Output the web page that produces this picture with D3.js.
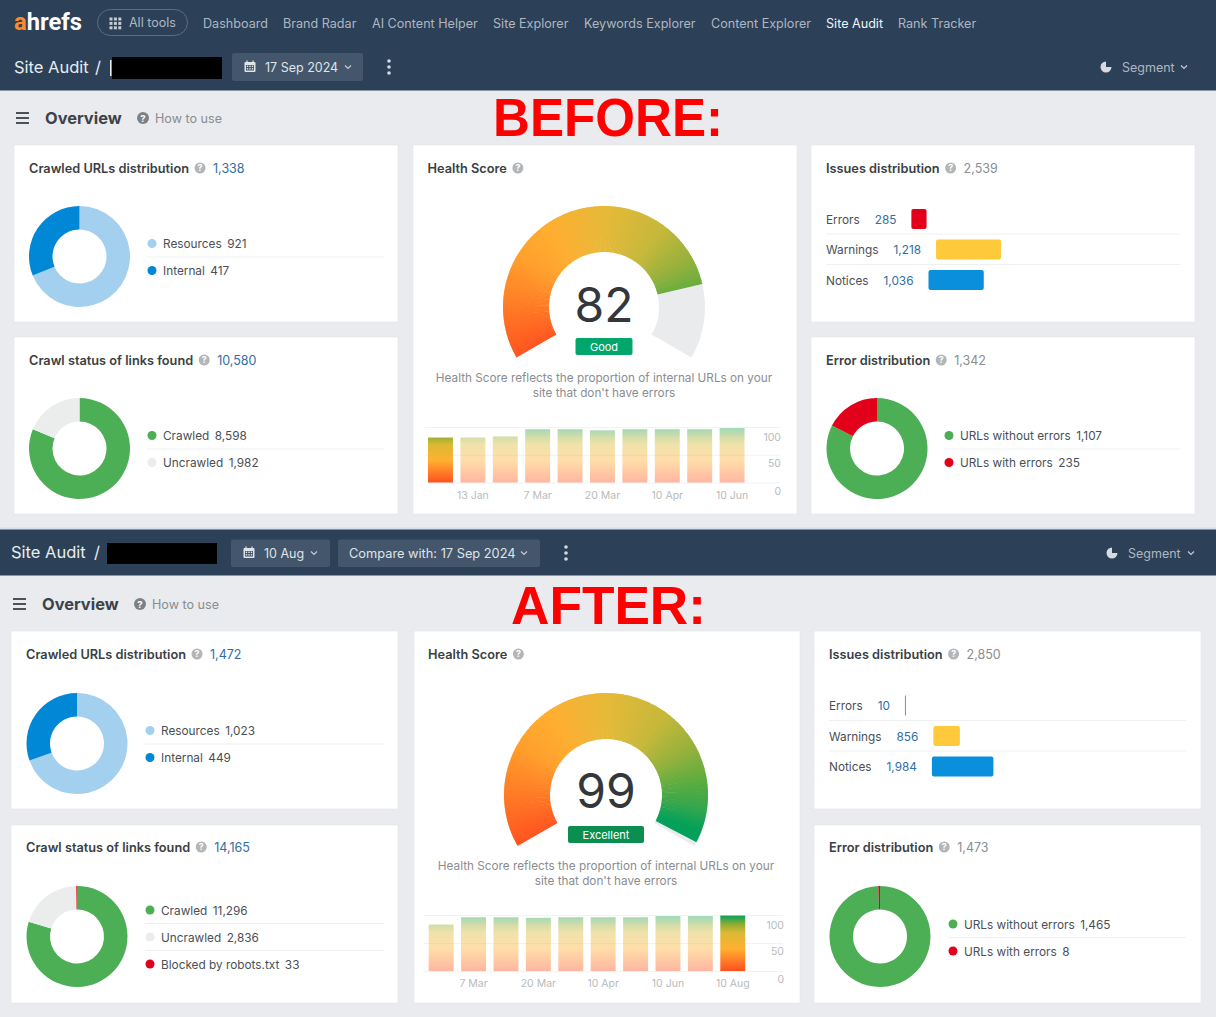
<!DOCTYPE html>
<html>
<head>
<meta charset="utf-8">
<script src="https://cdn.jsdelivr.net/npm/d3@7"></script>
<style>
  html, body { margin: 0; padding: 0; background: #e9ebee; }
  svg { display: block; font-family: Inter, "Noto Sans", sans-serif; }
</style>
</head>
<body>
<svg id="chart" width="1216" height="1017"></svg>
<script>
// values
const navItems = ["Dashboard", "Brand Radar", "AI Content Helper", "Site Explorer", "Keywords Explorer", "Content Explorer", "Site Audit", "Rank Tracker"];
const navX = [203, 283, 372, 493, 584, 711, 826, 898];

const crawledBeforeLabels = ["Resources", "Internal"];
const crawledBeforeValues = [921, 417];
const crawledAfterLabels = ["Resources", "Internal"];
const crawledAfterValues = [1023, 449];

const statusBeforeLabels = ["Crawled", "Uncrawled"];
const statusBeforeValues = [8598, 1982];
const statusAfterLabels = ["Crawled", "Uncrawled", "Blocked by robots.txt"];
const statusAfterValues = [11296, 2836, 33];

const errorBeforeLabels = ["URLs without errors", "URLs with errors"];
const errorBeforeValues = [1107, 235];
const errorAfterLabels = ["URLs without errors", "URLs with errors"];
const errorAfterValues = [1465, 8];

const issueLabels = ["Errors", "Warnings", "Notices"];
const issuesBefore = [285, 1218, 1036];
const issuesAfter = [10, 856, 1984];

const healthBefore = 82;
const healthAfter = 99;
const historyBefore = [81, 81, 83, 96, 96, 94, 96, 96, 96, 98];
const historyAfter = [83, 96, 96, 95, 96, 96, 96, 98, 98, 99];
const historyBeforeTicks = ["", "13 Jan", "", "7 Mar", "", "20 Mar", "", "10 Apr", "", "10 Jun"];
const historyAfterTicks = ["", "7 Mar", "", "20 Mar", "", "10 Apr", "", "10 Jun", "", "10 Aug"];
const historyYTicks = [0, 50, 100];

const gaugeStops = [0, 12, 25, 35, 50, 65, 75, 83, 90, 96, 100];
const gaugeColors = ["#ff5520", "#ff7a25", "#ffa02c", "#ffae30", "#e6b939", "#c6b83a", "#98b13c", "#60ad3f", "#38a74d", "#04a059", "#00a05a"];

const lightBlue = "#a3d0ee", blue = "#0088d6", green = "#4cae55", pale = "#ebeded", red = "#e2001a";
const fmt = d3.format(",");

const svg = d3.select("#chart");
const defs = svg.append("defs");

function label(parent, x, y, str, size, color, weight) {
  return parent.append("text").attr("x", x).attr("y", y).text(str)
    .attr("font-size", size).attr("fill", color).attr("font-weight", weight || 400);
}

function helpIcon(parent, x, y, r, color) {
  parent.append("circle").attr("cx", x).attr("cy", y).attr("r", r).attr("fill", color);
  label(parent, x, y + r * 0.6, "?", r * 1.6, "#fff", 700).attr("text-anchor", "middle");
}

function chevron(parent, x, y) {
  parent.append("path").attr("d", `M${x - 3},${y - 1.5}L${x},${y + 1.5}L${x + 3},${y - 1.5}`)
    .attr("fill", "none").attr("stroke", "#c4ccd4").attr("stroke-width", 1.2);
}

function kebab(parent, x, y) {
  [-6, 0, 6].forEach(d => parent.append("circle").attr("cx", x).attr("cy", y + d).attr("r", 1.8).attr("fill", "#d5dbe1"));
}

function calendar(parent, x, y) {
  parent.append("rect").attr("x", x - 5.5).attr("y", y - 5).attr("width", 11).attr("height", 10).attr("rx", 1)
    .attr("fill", "#dfe4e9");
  parent.append("rect").attr("x", x - 4).attr("y", y - 2).attr("width", 8).attr("height", 5.5).attr("fill", "#43566b");
  [-2.5, 0, 2.5].forEach(dx => [-0.7, 1.8].forEach(dy => {
    parent.append("rect").attr("x", x + dx - 0.7).attr("y", y + dy - 0.7).attr("width", 1.4).attr("height", 1.4).attr("fill", "#dfe4e9");
  }));
  [-3, 3].forEach(dx => parent.append("rect").attr("x", x + dx - 0.6).attr("y", y - 6.5).attr("width", 1.2).attr("height", 2.5).attr("fill", "#dfe4e9"));
}

function segmentLink(parent, iconX, textX, chevX, y) {
  const pie = d3.arc().innerRadius(0).outerRadius(5.5);
  parent.append("path").attr("transform", `translate(${iconX},${y})`)
    .attr("d", pie({ startAngle: Math.PI / 2, endAngle: Math.PI * 2 })).attr("fill", "#d5dbe1");
  label(parent, textX, y + 4.5, "Segment", 12.5, "#aeb7c1");
  chevron(parent, chevX, y);
}

function hamburger(parent, x, y) {
  [-5, 0, 5].forEach(d => parent.append("rect").attr("x", x).attr("y", y + d - 0.9).attr("width", 13).attr("height", 1.8).attr("fill", "#3d4248"));
}

function overviewRow(parent, x, y) {
  hamburger(parent, x, y);
  label(parent, x + 29, y + 6, "Overview", 16.4, "#3d4248", 700);
  helpIcon(parent, x + 127, y, 6, "#7d8185");
  label(parent, x + 139, y + 4.5, "How to use", 12.6, "#8a8d91");
}

function card(x0, y0, x1, y1) {
  svg.append("rect").attr("x", x0).attr("y", y0).attr("width", x1 - x0).attr("height", y1 - y0)
    .attr("fill", "#fff").attr("stroke", "#e3e5e8").attr("stroke-width", 0.6);
}

// title, help icon and total are laid out one after the other
function cardHeader(x, y, title, total, totalColor) {
  const t = label(svg, x, y + 4.5, title, 12.75, "#3a3f45", 600);
  const w = t.node().getComputedTextLength();
  helpIcon(svg, x + w + 11, y, 5.5, "#b3b6b9");
  if (total !== null) label(svg, x + w + 24, y + 4.5, fmt(total), 12.5, totalColor);
}

function donut(cx, cy, values, colors) {
  const pie = d3.pie().sort(null).value(d => d);
  const arc = d3.arc().innerRadius(27).outerRadius(50.5);
  svg.append("g").attr("transform", `translate(${cx},${cy})`)
    .selectAll("path").data(pie(values)).join("path")
    .attr("d", arc).attr("fill", (d, i) => colors[i]);
}

function legend(x, x1, y, labels, values, colors) {
  labels.forEach((name, i) => {
    const cy = y + i * 27;
    svg.append("circle").attr("cx", x + 5).attr("cy", cy).attr("r", 4.5).attr("fill", colors[i]);
    const t = label(svg, x + 16, cy + 4.5, name, 11.8, "#4a4f55");
    t.append("tspan").attr("dx", 5.5).text(fmt(values[i]));
    if (i < labels.length - 1) {
      svg.append("line").attr("x1", x).attr("x2", x1).attr("y1", cy + 13.5).attr("y2", cy + 13.5)
        .attr("stroke", "#eff0f1");
    }
  });
}

function issueBars(x, x1, y, values, maxWidth, colors) {
  const w = d3.scaleLinear().domain([0, d3.max(values)]).range([0, maxWidth]);
  issueLabels.forEach((name, i) => {
    const cy = y + i * 30.5;
    const a = label(svg, x, cy + 4.5, name, 11.8, "#4a4f55");
    const ax = x + a.node().getComputedTextLength() + 15;
    const b = label(svg, ax, cy + 4.5, fmt(values[i]), 11.8, "#2f6ea8");
    const bx = ax + b.node().getComputedTextLength() + 15;
    svg.append("rect").attr("x", bx).attr("y", cy - 10).attr("width", Math.max(1, w(values[i]))).attr("height", 20)
      .attr("rx", values[i] < 50 ? 0 : 2).attr("fill", colors[i]);
    if (i < 2) {
      svg.append("line").attr("x1", x).attr("x2", x1).attr("y1", cy + 15).attr("y2", cy + 15).attr("stroke", "#eff0f1");
    }
  });
}

function gauge(cx, cy, rOuter, rInner, score, scoreY, badge, badgeWidth, badgeColor) {
  const g = svg.append("g").attr("transform", `translate(${cx},${cy})`);
  const angle = d3.scaleLinear().domain([0, 100]).range([-2 * Math.PI / 3, 2 * Math.PI / 3]);
  const arc = d3.arc().innerRadius(rInner).outerRadius(rOuter);
  const color = d3.scaleLinear().domain(gaugeStops).range(gaugeColors);
  if (score < 100) {
    g.append("path").attr("d", arc({ startAngle: angle(score), endAngle: angle(100) })).attr("fill", "#e9ebed");
  }
  // conic gradient, built from thin slices
  d3.range(0, score, 0.5).forEach(s => {
    g.append("path")
      .attr("d", arc({ startAngle: angle(s), endAngle: angle(Math.min(score, s + 0.7)) }))
      .attr("fill", color(s));
  });
  label(g, 0, scoreY, String(score), 48, "#33373c").attr("text-anchor", "middle");
  g.append("rect").attr("x", -badgeWidth / 2).attr("y", 31).attr("width", badgeWidth).attr("height", 17).attr("rx", 2).attr("fill", badgeColor);
  label(g, 0, 44, badge, 11, "#fff").attr("text-anchor", "middle");
  label(g, 0, 75, "Health Score reflects the proportion of internal URLs on your", 11.75, "#8a8d91").attr("text-anchor", "middle");
  label(g, 0, 90, "site that don't have errors", 11.75, "#8a8d91").attr("text-anchor", "middle");
}

function history(id, x0, y0, y100, gridX0, gridX1, values, ticks) {
  const x = d3.scaleBand().domain(d3.range(values.length))
    .range([x0, x0 + 32.4 * (values.length - 0.23)]).paddingInner(0.23).paddingOuter(0);
  const y = d3.scaleLinear().domain([0, 100]).range([y0, y100]);

  const grad = defs.append("linearGradient").attr("id", id).attr("gradientUnits", "userSpaceOnUse")
    .attr("x1", 0).attr("x2", 0).attr("y1", y(0)).attr("y2", y(100));
  [[0, "#ff5020"], [40, "#ffb030"], [68, "#dcb935"], [82, "#98ae30"], [100, "#00a15a"]].forEach(s => {
    grad.append("stop").attr("offset", s[0] + "%").attr("stop-color", s[1]);
  });

  const axisY = svg.append("g").attr("transform", `translate(${gridX1},0)`)
    .call(d3.axisRight(y).tickValues(historyYTicks).tickSize(gridX0 - gridX1).tickPadding(0));
  axisY.select(".domain").remove();
  axisY.selectAll("line").attr("stroke", "#f1f2f3");
  axisY.selectAll("text").attr("x", 1).attr("dy", d => d === 100 ? 13 : 11.5).attr("text-anchor", "end")
    .attr("font-size", 10.5).attr("font-family", "Inter").attr("fill", "#b9bbbe");

  svg.append("g").selectAll("rect").data(values).join("rect")
    .attr("x", (d, i) => x(i)).attr("width", x.bandwidth())
    .attr("y", d => y(d)).attr("height", d => y(0) - y(d))
    .attr("fill", `url(#${id})`)
    .attr("opacity", (d, i) => id === "histBefore" ? (i === 0 ? 1 : 0.42) : (i === values.length - 1 ? 1 : 0.42));

  const axisX = svg.append("g").attr("transform", `translate(0,${y0 + 5})`)
    .call(d3.axisBottom(x).tickSize(0).tickPadding(4).tickFormat(i => ticks[i]));
  axisX.select(".domain").remove();
  axisX.selectAll("text").attr("font-size", 10.5).attr("font-family", "Inter").attr("fill", "#b9bbbe");
}

// page background and dark header bands
svg.append("rect").attr("width", 1216).attr("height", 1017).attr("fill", "#e9ebee");
svg.append("rect").attr("width", 1216).attr("height", 90.5).attr("fill", "#2c4058");
svg.append("rect").attr("y", 527.5).attr("width", 1216).attr("height", 2).attr("fill", "#d3dfeb");
svg.append("rect").attr("y", 529.5).attr("width", 1216).attr("height", 46).attr("fill", "#2c4058");

// top nav
const logo = label(svg, 14, 30, "", 23, "#fff", 700).attr("font-family", "Roboto").attr("textLength", 68).attr("lengthAdjust", "spacingAndGlyphs");
logo.append("tspan").attr("fill", "#ff8a2b").text("a");
logo.append("tspan").text("hrefs");

svg.append("rect").attr("x", 97.5).attr("y", 9.5).attr("width", 90).attr("height", 26).attr("rx", 13)
  .attr("fill", "none").attr("stroke", "#5d6e81");
d3.range(9).forEach(i => {
  svg.append("rect").attr("x", 109.5 + (i % 3) * 4.4).attr("y", 17.5 + Math.floor(i / 3) * 4.4)
    .attr("width", 3).attr("height", 3).attr("fill", "#c4ccd4");
});
label(svg, 129, 27, "All tools", 12.5, "#aeb7c1");
navItems.forEach((name, i) => {
  label(svg, navX[i], 27.5, name, 12.6, name === "Site Audit" ? "#f0f3f5" : "#aeb7c1");
});

// second row, before
label(svg, 14, 73, "Site Audit", 16.5, "#e8ecef");
label(svg, 95, 73, "/", 16.5, "#e8ecef");
svg.append("rect").attr("x", 110).attr("y", 60).attr("width", 1.5).attr("height", 16).attr("fill", "#e8ecef");
svg.append("rect").attr("x", 112).attr("y", 57).attr("width", 110).attr("height", 22).attr("fill", "#000");
svg.append("rect").attr("x", 232).attr("y", 53).attr("width", 131).attr("height", 28).attr("rx", 2).attr("fill", "#43566b");
calendar(svg, 250, 67);
label(svg, 265, 72, "17 Sep 2024", 12.5, "#dfe4e9");
chevron(svg, 348, 67);
kebab(svg, 389, 67);
segmentLink(svg, 1106, 1122, 1184, 67);

// second row, after
label(svg, 11, 558, "Site Audit", 16.5, "#e8ecef");
label(svg, 94, 558, "/", 16.5, "#e8ecef");
svg.append("rect").attr("x", 107).attr("y", 543).attr("width", 110).attr("height", 21).attr("fill", "#000");
svg.append("rect").attr("x", 231).attr("y", 539.5).attr("width", 99).attr("height", 27.5).attr("rx", 2).attr("fill", "#43566b");
calendar(svg, 249, 553);
label(svg, 264, 557.5, "10 Aug", 12.5, "#dfe4e9");
chevron(svg, 314, 553);
svg.append("rect").attr("x", 338).attr("y", 539.5).attr("width", 202).attr("height", 27.5).attr("rx", 2).attr("fill", "#43566b");
label(svg, 349, 557.5, "Compare with: 17 Sep 2024", 12.8, "#dfe4e9");
chevron(svg, 524, 553);
kebab(svg, 566, 553);
segmentLink(svg, 1112, 1128, 1191, 553);

overviewRow(svg, 16, 118);
overviewRow(svg, 13, 604);

// big red captions
label(svg, 493, 136, "BEFORE:", 54, "#ff0000", 700).attr("font-family", "Liberation Sans")
  .attr("textLength", 230).attr("lengthAdjust", "spacingAndGlyphs");
label(svg, 511, 624, "AFTER:", 54, "#ff0000", 700).attr("font-family", "Liberation Sans")
  .attr("textLength", 195).attr("lengthAdjust", "spacingAndGlyphs");

// before cards
card(14, 145, 398, 322);
card(14, 337, 398, 514);
card(413, 145, 797, 514);
card(811, 145, 1195, 322);
card(811, 337, 1195, 514);

cardHeader(29, 168, "Crawled URLs distribution", d3.sum(crawledBeforeValues), "#2f6ea8");
donut(79.5, 256.5, crawledBeforeValues, [lightBlue, blue]);
legend(147, 384, 243.5, crawledBeforeLabels, crawledBeforeValues, [lightBlue, blue]);

cardHeader(29, 360, "Crawl status of links found", d3.sum(statusBeforeValues), "#2f6ea8");
donut(79.5, 448.5, statusBeforeValues, [green, pale]);
legend(147, 384, 435.5, statusBeforeLabels, statusBeforeValues, [green, pale]);

cardHeader(427.5, 168, "Health Score", null);
gauge(604, 307, 101, 55, healthBefore, 14.5, "Good", 57, "#00a66a");
history("histBefore", 428, 482.5, 427, 425, 780, historyBefore, historyBeforeTicks);

cardHeader(826, 168, "Issues distribution", d3.sum(issuesBefore), "#8a8d91");
issueBars(826, 1180, 219, issuesBefore, 65, [red, "#ffc93c", "#0a8fdc"]);

cardHeader(826, 360, "Error distribution", d3.sum(errorBeforeValues), "#8a8d91");
donut(877, 448.5, errorBeforeValues, [green, red]);
legend(944, 1180, 435.5, errorBeforeLabels, errorBeforeValues, [green, red]);

// after cards
card(11, 631, 398, 809);
card(11, 825, 398, 1003);
card(414, 631, 800, 1003);
card(814, 631, 1201, 809);
card(814, 825, 1201, 1003);

cardHeader(26, 654, "Crawled URLs distribution", d3.sum(crawledAfterValues), "#2f6ea8");
donut(77, 743.5, crawledAfterValues, [lightBlue, blue]);
legend(145, 384, 730.5, crawledAfterLabels, crawledAfterValues, [lightBlue, blue]);

cardHeader(26, 847, "Crawl status of links found", d3.sum(statusAfterValues), "#2f6ea8");
donut(77, 936.5, statusAfterValues, [green, pale, red]);
legend(145, 384, 910, statusAfterLabels, statusAfterValues, [green, pale, red]);

cardHeader(428, 654, "Health Score", null);
gauge(606, 795, 102, 56, healthAfter, 13, "Excellent", 76, "#0a8f50");
history("histAfter", 428.7, 971, 915, 424, 783, historyAfter, historyAfterTicks);

cardHeader(829, 654, "Issues distribution", d3.sum(issuesAfter), "#8a8d91");
issueBars(829, 1186, 705.5, issuesAfter, 61.5, ["#d66a85", "#ffc93c", "#0a8fdc"]);

cardHeader(829, 847, "Error distribution", d3.sum(errorAfterValues), "#8a8d91");
donut(880, 936.5, errorAfterValues, [green, red]);
legend(948, 1186, 924, errorAfterLabels, errorAfterValues, [green, red]);
</script>
</body>
</html>
